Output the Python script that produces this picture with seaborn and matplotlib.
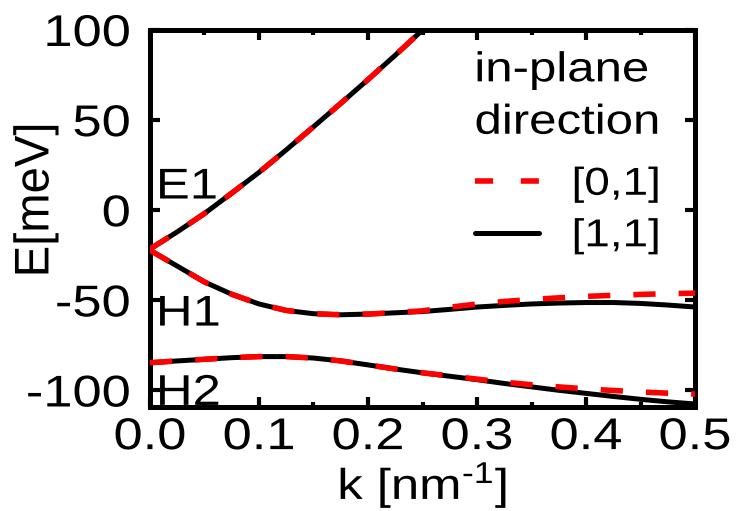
import numpy as np
import pandas as pd
import matplotlib
matplotlib.use("Agg")
import matplotlib.pyplot as plt
import seaborn as sns
from matplotlib.patheffects import AbstractPathEffect
from matplotlib.transforms import Affine2D
from matplotlib.ticker import MultipleLocator, FixedLocator

# ---- band structure data (E in meV, k in nm^-1) ----
k_e1 = [0.0, 0.025, 0.05, 0.075, 0.1, 0.125, 0.15, 0.175, 0.2, 0.225, 0.25, 0.27]
e1 = [-21.5, -12.0, -1.8, 9.5, 21.0, 33.5, 46.3, 59.3, 72.5, 86.0, 100.0, 111.0]

k_h = [0.0, 0.025, 0.05, 0.075, 0.1, 0.125, 0.15, 0.175, 0.2, 0.225, 0.25,
       0.275, 0.3, 0.325, 0.35, 0.375, 0.4, 0.425, 0.45, 0.475, 0.5]
h1_01 = [-22.2, -31.0, -39.8, -46.6, -52.0, -55.6, -57.4, -58.0, -57.6, -56.8, -55.8,
         -53.8, -52.0, -50.6, -49.5, -48.6, -47.8, -47.2, -46.7, -46.3, -46.0]
h1_11 = [-22.2, -31.0, -39.8, -46.6, -52.0, -55.6, -57.4, -58.0, -57.6, -56.9, -56.2,
         -55.0, -53.7, -52.8, -52.0, -51.5, -51.2, -51.2, -51.7, -52.6, -53.7]
h2_01 = [-84.6, -83.6, -82.7, -81.8, -81.2, -81.2, -82.0, -83.6, -85.8, -88.1, -90.2,
         -91.9, -93.7, -95.4, -96.8, -98.0, -99.1, -100.0, -100.8, -101.5, -102.0]
h2_11 = [-84.6, -83.6, -82.7, -81.8, -81.2, -81.2, -82.0, -83.6, -85.8, -88.1, -90.2,
         -92.1, -94.0, -96.1, -98.0, -99.9, -101.6, -103.3, -104.9, -106.3, -107.5]

directions = ["[0,1]", "[1,1]"]
band_labels = ["E1", "H1", "H2"]
band_label_pos = [6.5, -64.0, -108.0]
x_ticks = [0.0, 0.1, 0.2, 0.3, 0.4, 0.5]
y_ticks = [-100, -50, 0, 50, 100]

rows = []
for d, h1, h2 in [("[0,1]", h1_01, h2_01), ("[1,1]", h1_11, h2_11)]:
    for kk, ee in zip(k_e1, e1):
        rows.append((d, "E1", kk, ee))
    for kk, ee in zip(k_h, h1):
        rows.append((d, "H1", kk, ee))
    for kk, ee in zip(k_h, h2):
        rows.append((d, "H2", kk, ee))
df = pd.DataFrame(rows, columns=["direction", "band", "k", "E"])


class Widen(AbstractPathEffect):
    """Draw glyphs widened about a chosen anchor."""

    def __init__(self, factor, anchor="center", along="x"):
        super().__init__()
        self.factor = factor
        self.anchor = anchor
        self.along = along

    def draw_path(self, renderer, gc, tpath, affine, rgbFace=None):
        if self.along == "x":
            ext = tpath.get_extents()
            ref = {"left": ext.x0, "center": 0.5 * (ext.x0 + ext.x1),
                   "right": ext.x1}[self.anchor]
            tr = Affine2D().translate(-ref, 0).scale(self.factor, 1).translate(ref, 0)
        else:
            tr = Affine2D().scale(1, self.factor)
        renderer.draw_path(gc, tpath, tr + affine, rgbFace)


sns.set_style("ticks")
plt.rcParams["font.family"] = ["Liberation Sans", "DejaVu Sans"]
plt.rcParams["mathtext.fontset"] = "custom"
plt.rcParams["mathtext.rm"] = "Liberation Sans"
plt.rcParams["mathtext.it"] = "Liberation Sans"
plt.rcParams["axes.unicode_minus"] = False
plt.rcParams["text.color"] = "black"
plt.rcParams["axes.labelcolor"] = "black"
plt.rcParams["xtick.color"] = "black"
plt.rcParams["ytick.color"] = "black"

W = 1.18  # glyph widening

fig = plt.figure(figsize=(7.36, 5.11), dpi=100)
ax = fig.add_axes([0.2038, 0.2041, 0.7405, 0.7372])

dash = (0, (4.0, 4.15))
sns.lineplot(data=df[df.direction == "[1,1]"], x="k", y="E", units="band",
             estimator=None, sort=False, color="black", linewidth=3.6,
             label="[1,1]", ax=ax, zorder=2)
sns.lineplot(data=df[df.direction == "[0,1]"], x="k", y="E", units="band",
             estimator=None, sort=False, color="#ff0000", linewidth=4.0,
             linestyle=dash, label="[0,1]", ax=ax, zorder=3)

ax.set_xlim(0.0, 0.5)
ax.set_ylim(-109, 100)
ax.xaxis.set_major_locator(FixedLocator(x_ticks))
ax.xaxis.set_minor_locator(MultipleLocator(0.05))
ax.yaxis.set_major_locator(FixedLocator(y_ticks))
ax.set_xticklabels([f"{t:.1f}" for t in x_ticks])
ax.set_yticklabels([str(t) for t in y_ticks])

for s in ax.spines.values():
    s.set_linewidth(3.6)
    s.set_color("black")
ax.tick_params(which="major", direction="in", length=7, width=3,
               top=True, right=True, labelsize=32, colors="black")
ax.tick_params(axis="x", which="major", pad=7.5)
ax.tick_params(axis="y", which="major", pad=14)
ax.tick_params(which="minor", direction="in", length=3.5, width=3,
               top=True, bottom=True)

ax.set_xlabel(r"k [nm$^{\text{-1}}$]", fontsize=31, labelpad=2)
ax.set_ylabel("E[meV]", fontsize=34)
ax.yaxis.set_label_coords(-0.168, 0.549)

for lab, y in zip(band_labels, band_label_pos):
    t = ax.text(0.006, y, lab, fontsize=31, ha="left", va="baseline")
    t.set_path_effects([Widen(W, "left")])

# legend heading
head = ax.text(0.596, 0.946, "in-plane\ndirection", transform=ax.transAxes,
               ha="left", va="top", fontsize=30, linespacing=1.4)
head.set_path_effects([Widen(W, "left")])

# legend: dashed [0,1] first, then solid [1,1]
handles, labels = ax.get_legend_handles_labels()
order = [labels.index(d) for d in directions]
leg = ax.legend([handles[i] for i in order], [labels[i] for i in order],
                loc="upper left", bbox_to_anchor=(0.596, 0.637),
                frameon=False, fontsize=28,
                handlelength=1.65, handletextpad=0.85, labelspacing=0.4,
                borderpad=0, borderaxespad=0)
# shorter dashes with wider gaps on the legend key
leg.legend_handles[0].set_dashes((3.25, 5.0))
for t in leg.get_texts():
    t.set_path_effects([Widen(W, "left")])

for lab in ax.get_xticklabels():
    lab.set_path_effects([Widen(W, "center")])
for lab in ax.get_yticklabels():
    lab.set_path_effects([Widen(W, "right")])
ax.xaxis.label.set_path_effects([Widen(W, "center")])
ax.yaxis.label.set_path_effects([Widen(1.03, along="y")])

fig.savefig("out.png", dpi=100)
